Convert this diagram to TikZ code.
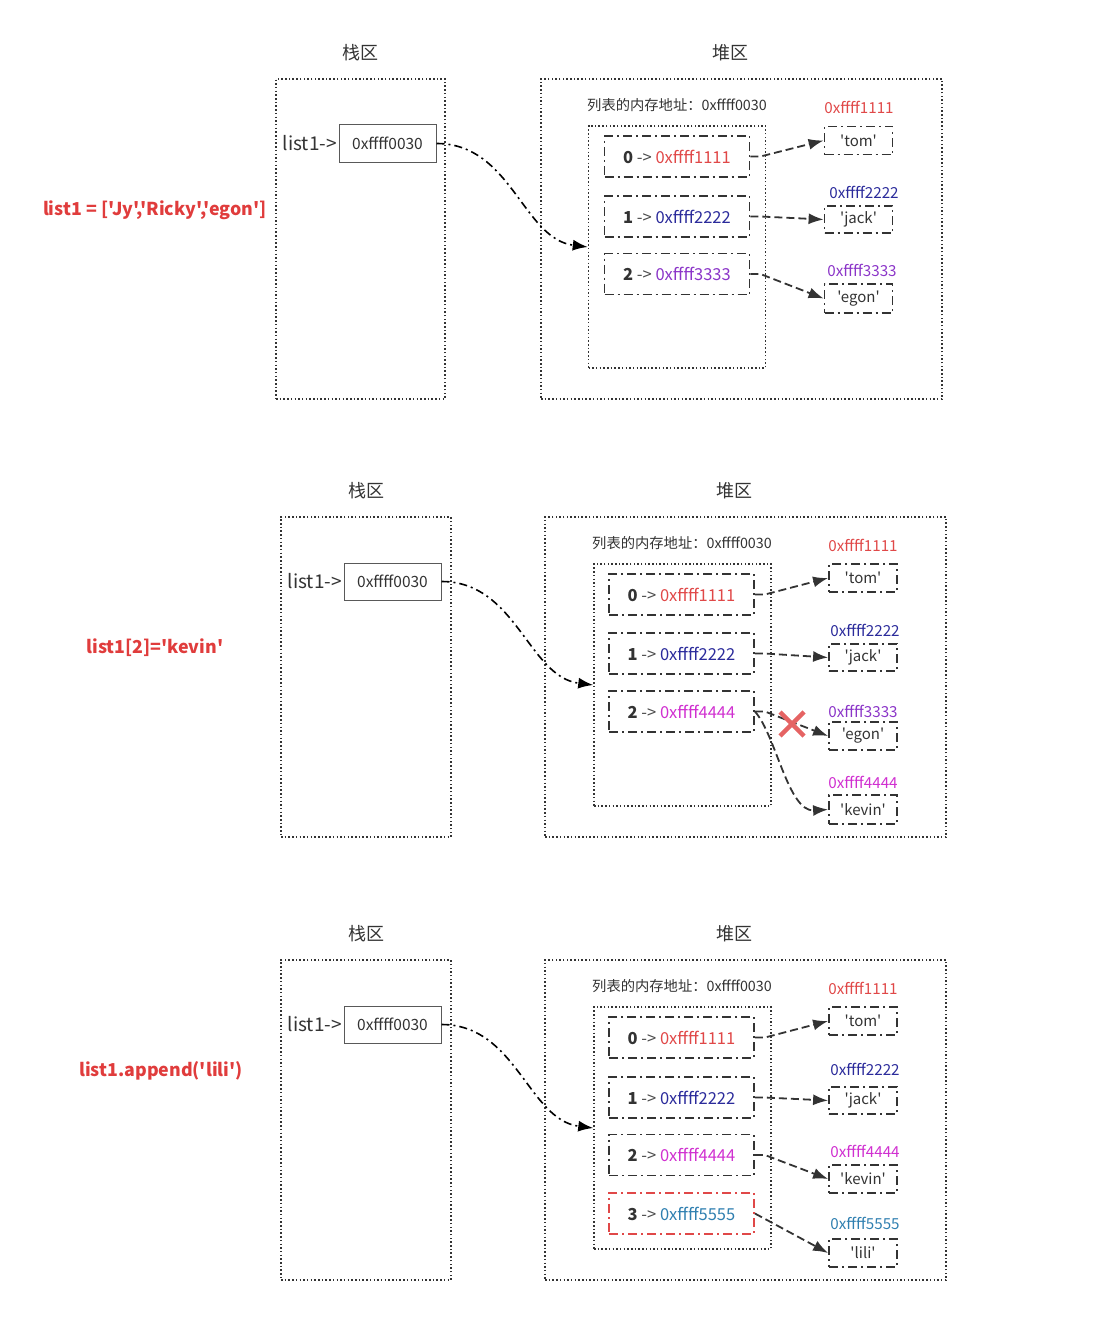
\documentclass[tikz,border=0pt]{standalone}
\usepackage{fontspec}
\newfontfamily\mf{Noto Sans CJK SC}
\usetikzlibrary{arrows.meta,calc}
\definecolor{cA}{HTML}{E04848}
\definecolor{cB}{HTML}{2B2B9B}
\definecolor{cC}{HTML}{8B35C8}
\definecolor{cD}{HTML}{D030D0}
\definecolor{cE}{HTML}{2F7FB0}
\definecolor{codered}{HTML}{E03C3C}
\definecolor{lc}{HTML}{333333}
\newcommand\elt[3]{{\bfseries #1} {\color{black!70}->} {\color{#2}#3}}
\begin{document}
\begin{tikzpicture}[x=1pt,y=-1pt,
  every node/.style={font=\mf},
  outer/.style={draw=black!80, line width=1.5pt, dash pattern=on 1.5pt off 2.2pt, inner sep=0pt},
  innerbox/.style={draw=black!80, line width=1.5pt, dash pattern=on 1.5pt off 2.2pt, inner sep=0pt, minimum width=177pt, minimum height=242pt},
  elembox/.style={draw=lc, line width=1.8pt, dash pattern=on 9pt off 4pt on 2pt off 4pt, inner sep=0pt, minimum width=145pt, minimum height=41pt, font=\mf\fontsize{16.5}{18}\selectfont, text=lc},
  valbox/.style={draw=lc, line width=1.8pt, dash pattern=on 9pt off 4pt on 2pt off 4pt, inner sep=0pt, minimum width=68pt, minimum height=28pt, font=\mf\fontsize{15}{17}\selectfont, text=lc},
  ptrbox/.style={draw=black!65, line width=1pt, inner sep=0pt, minimum width=97pt, minimum height=37pt, font=\mf\fontsize{15.5}{17}\selectfont, text=lc},
  listlbl/.style={anchor=east, inner sep=1pt, font=\mf\fontsize{19}{21}\selectfont, text=lc},
  title/.style={font=\mf\fontsize{18}{20}\selectfont, text=lc},
  heaplbl/.style={font=\mf\fontsize{14.3}{16}\selectfont, text=lc},
  addr/.style={font=\mf\fontsize{15.2}{17}\selectfont},
  code/.style={font=\mf\bfseries\fontsize{17.8}{20}\selectfont, text=codered},
  mainptr/.style={draw=black, line width=1.6pt, dash pattern=on 8pt off 4pt on 2pt off 4pt, -{Latex[length=15pt,width=11pt]}},
  ptr/.style={draw=lc, line width=1.8pt, dash pattern=on 8pt off 4pt, -{Latex[length=15pt,width=11pt]}},
  cross/.style={draw=cA!85, line width=4.5pt}
]
\useasboundingbox (0,0) rectangle (1105,1319);

% ================= Panel 1 =================
\node[title] (t1s) at (360,53) {栈区};
\node[title] (t1h) at (730,53) {堆区};
\node[outer, minimum width=169pt, minimum height=320pt] (s1) at (360.5,239) {};
\node[outer, minimum width=401pt, minimum height=320pt] (h1) at (741.5,239) {};
\node[ptrbox] (p1) at (387.5,143.5) {0xffff0030};
\node[listlbl] (l1) at (338,143) {list1->};
\node[heaplbl] (hl1) at (677,105) {列表的内存地址：0xffff0030};
\node[innerbox] (i1) at (677,247) {};
\node[elembox] (e10) at (677,156.5) {\elt{0}{cA}{0xffff1111}};
\node[elembox] (e11) at (677,216.5) {\elt{1}{cB}{0xffff2222}};
\node[elembox] (e12) at (677,274) {\elt{2}{cC}{0xffff3333}};
\node[valbox] (v10) at (858.5,140.5) {'tom'};
\node[valbox, minimum height=27pt] (v11) at (858.5,219.5) {'jack'};
\node[valbox, minimum height=29pt] (v12) at (858.5,298.5) {'egon'};
\node[addr, text=cA] (a10) at (859,107) {0xffff1111};
\node[addr, text=cB] (a11) at (864,192) {0xffff2222};
\node[addr, text=cC] (a12) at (862,270) {0xffff3333};
\node[code] (c1) at (155,210) {list1 = ['Jy','Ricky','egon']};
\draw[mainptr] (p1.east) .. controls +(75,0) and +(-65,-8) .. (i1.west);
\draw[ptr] (e10.east) -- ++(10,0) -- (v10.west);
\draw[ptr] (e11.east) -- ++(10,0) -- (v11.west);
\draw[ptr] (e12.east) -- ++(10,0) -- (v12.west);

% ================= Panel 2 =================
\node[title] (t2s) at (366,491) {栈区};
\node[title] (t2h) at (734,491) {堆区};
\node[outer, minimum width=170pt, minimum height=320pt] (s2) at (366,677) {};
\node[outer, minimum width=401pt, minimum height=320pt] (h2) at (745.5,677) {};
\node[ptrbox] (p2) at (392.5,581.5) {0xffff0030};
\node[listlbl] (l2) at (343,581) {list1->};
\node[heaplbl] (hl2) at (682,543) {列表的内存地址：0xffff0030};
\node[innerbox] (i2) at (682.5,685) {};
\node[elembox] (e20) at (681.5,594.5) {\elt{0}{cA}{0xffff1111}};
\node[elembox] (e21) at (681.5,653.5) {\elt{1}{cB}{0xffff2222}};
\node[elembox] (e22) at (681.5,711.5) {\elt{2}{cD}{0xffff4444}};
\node[valbox] (v20) at (863,578) {'tom'};
\node[valbox, minimum height=27pt] (v21) at (863,657.5) {'jack'};
\node[valbox] (v22) at (863,736) {'egon'};
\node[valbox, minimum height=29pt] (v23) at (863,809.5) {'kevin'};
\node[addr, text=cA] (a20) at (863,545) {0xffff1111};
\node[addr, text=cB] (a21) at (865,630) {0xffff2222};
\node[addr, text=cC] (a22) at (863,711) {0xffff3333};
\node[addr, text=cD] (a23) at (863,782) {0xffff4444};
\node[code] (c2) at (155,648) {list1[2]='kevin'};
\draw[mainptr] (p2.east) .. controls +(75,0) and +(-65,-8) .. (i2.west);
\draw[ptr] (e20.east) -- ++(10,0) -- (v20.west);
\draw[ptr] (e21.east) -- ++(10,0) -- (v21.west);
\draw[ptr] (e22.east) -- ++(10,0) -- (v22.west);
\draw[ptr] (e22.east) .. controls (776,735) and (788,812) .. (v23.west);
\coordinate (x2) at (792,724);
\draw[cross] ($(x2)+(-12,-12)$) -- ($(x2)+(12,12)$);
\draw[cross] ($(x2)+(-12,12)$) -- ($(x2)+(12,-12)$);

% ================= Panel 3 =================
\node[title] (t3s) at (366,934) {栈区};
\node[title] (t3h) at (734,934) {堆区};
\node[outer, minimum width=170pt, minimum height=320pt] (s3) at (366,1120) {};
\node[outer, minimum width=401pt, minimum height=320pt] (h3) at (745.5,1120) {};
\node[ptrbox] (p3) at (392.5,1024.5) {0xffff0030};
\node[listlbl] (l3) at (343,1024) {list1->};
\node[heaplbl] (hl3) at (682,986) {列表的内存地址：0xffff0030};
\node[innerbox] (i3) at (682.5,1128) {};
\node[elembox] (e30) at (681.5,1037.5) {\elt{0}{cA}{0xffff1111}};
\node[elembox] (e31) at (681.5,1097.5) {\elt{1}{cB}{0xffff2222}};
\node[elembox] (e32) at (681.5,1155) {\elt{2}{cD}{0xffff4444}};
\node[elembox, draw=cA] (e33) at (681.5,1213.5) {\elt{3}{cE}{0xffff5555}};
\node[valbox] (v30) at (863,1021) {'tom'};
\node[valbox, minimum height=27pt] (v31) at (863,1100.5) {'jack'};
\node[valbox] (v32) at (863,1179) {'kevin'};
\node[valbox] (v33) at (863,1253) {'lili'};
\node[addr, text=cA] (a30) at (863,988) {0xffff1111};
\node[addr, text=cB] (a31) at (865,1069) {0xffff2222};
\node[addr, text=cD] (a32) at (865,1151) {0xffff4444};
\node[addr, text=cE] (a33) at (865,1223) {0xffff5555};
\node[code] (c3) at (161,1071) {list1.append('lili')};
\draw[mainptr] (p3.east) .. controls +(75,0) and +(-65,-8) .. (i3.west);
\draw[ptr] (e30.east) -- ++(10,0) -- (v30.west);
\draw[ptr] (e31.east) -- ++(10,0) -- (v31.west);
\draw[ptr] (e32.east) -- ++(10,0) -- (v32.west);
\draw[ptr] (e33.east) -- (v33.west);
\end{tikzpicture}
\end{document}
